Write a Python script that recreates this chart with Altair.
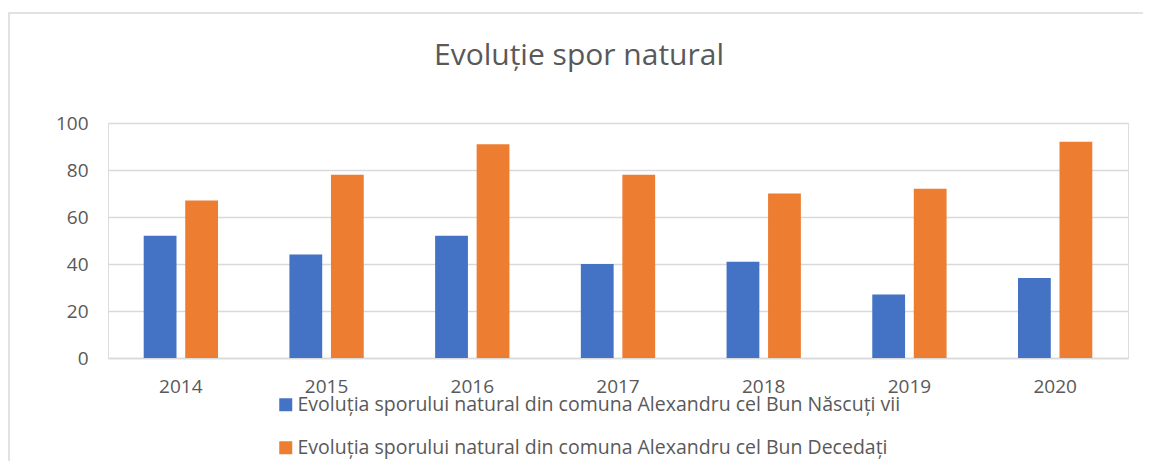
import altair as alt
import pandas as pd

years = ["2014", "2015", "2016", "2017", "2018", "2019", "2020"]
nascuti = [52, 44, 52, 40, 41, 27, 34]
decedati = [67, 78, 91, 78, 70, 72, 92]
series = [
    "Evoluția sporului natural din comuna Alexandru cel Bun Născuți vii",
    "Evoluția sporului natural din comuna Alexandru cel Bun Decedați",
]
colors = ["#4472C4", "#ED7D31"]

rows = []
for i, y in enumerate(years):
    rows.append({"an": y, "serie": series[0], "valoare": nascuti[i]})
    rows.append({"an": y, "serie": series[1], "valoare": decedati[i]})
df = pd.DataFrame(rows)

FONT = "Open Sans"

bars = alt.Chart(df).mark_bar().encode(
    x=alt.X("an:N", title=None, sort=years,
            scale=alt.Scale(paddingInner=0.49, paddingOuter=0.245),
            axis=alt.Axis(labelAngle=0, labelFontSize=19, labelColor="#595959",
                          labelFont=FONT, labelPadding=19, ticks=False,
                          domain=True, domainColor="#d9d9d9", domainWidth=1.5)),
    xOffset=alt.XOffset("serie:N", sort=series,
                        scale=alt.Scale(paddingInner=0.21, paddingOuter=0)),
    y=alt.Y("valoare:Q", title=None,
            scale=alt.Scale(domain=[0, 100]),
            axis=alt.Axis(values=[0, 20, 40, 60, 80, 100], labelFontSize=19,
                          labelColor="#595959", labelFont=FONT, labelPadding=20,
                          ticks=False, domain=False, gridColor="#d9d9d9",
                          gridWidth=1.5)),
    color=alt.Color("serie:N", sort=series, title=None,
                    scale=alt.Scale(domain=series, range=colors),
                    legend=alt.Legend(orient="none", legendX=168, legendY=272,
                                      direction="vertical", symbolType="square",
                                      symbolSize=169, symbolStrokeWidth=0,
                                      labelFontSize=19.5, labelFont=FONT,
                                      labelColor="#595959", rowPadding=22,
                                      labelOffset=2, labelLimit=900)),
)

frame = alt.Chart(pd.DataFrame({"a": [0]})).mark_rect(
    fill=None, fillOpacity=0, stroke="#d9d9d9", strokeWidth=1.5, clip=False
).encode(x=alt.value(-99), x2=alt.value(1300), y=alt.value(-110), y2=alt.value(600))

chart = alt.layer(frame, bars).properties(
    width=1020, height=235,
    title=alt.TitleParams("Evoluție spor natural", fontSize=30, font=FONT,
                          fontWeight="normal", color="#595959", anchor="middle",
                          frame="group", baseline="alphabetic",
                          dx=-39, offset=-83),
    padding={"left": 100, "top": 115, "right": 15, "bottom": 103},
    autosize=alt.AutoSizeParams(type="none"),
).configure_view(stroke=None).configure(background="white")

chart.save("out.html", embed_options={"renderer": "svg", "actions": False})
